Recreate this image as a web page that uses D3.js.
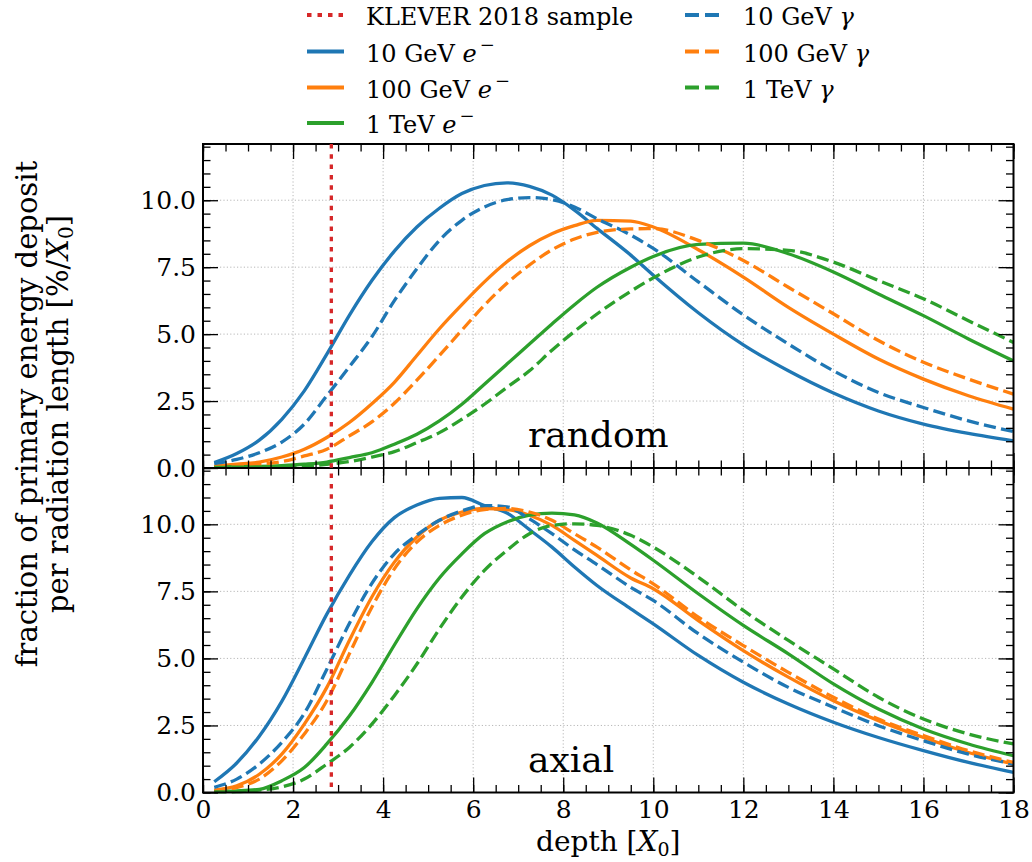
<!DOCTYPE html>
<html><head><meta charset="utf-8">
<script src="https://cdn.jsdelivr.net/npm/d3@7"></script>
<style>
body{margin:0;background:#fff;}
text{font-family:"DejaVu Serif",serif;fill:#000;}
</style></head><body>
<svg id="chart" width="1032" height="862"></svg>
<script>
// ---- data ----
const depth = [0.25,0.75,1.25,1.75,2.25,2.75,3.25,3.75,4.25,4.75,5.25,5.75,6.25,6.75,7.25,7.75,8.25,8.75,9.5,10,11,12,13,14,15,16,17,18];

const random_e10  = [0.2,0.54,1.04,1.82,2.88,4.25,5.7,7.0,8.1,9.0,9.7,10.25,10.55,10.65,10.52,10.19,9.63,8.95,7.95,7.2,5.8,4.6,3.63,2.80,2.13,1.64,1.29,1.01];
const random_e100 = [0.07,0.14,0.22,0.41,0.7,1.14,1.7,2.4,3.2,4.2,5.2,6.1,6.95,7.7,8.3,8.75,9.05,9.25,9.22,9.0,8.15,7.13,6.0,5.0,4.07,3.32,2.7,2.2];
const random_e1T  = [0.04,0.05,0.06,0.09,0.14,0.22,0.39,0.57,0.89,1.26,1.76,2.38,3.13,3.88,4.63,5.38,6.1,6.75,7.5,7.9,8.35,8.4,8.0,7.32,6.5,5.69,4.82,4.0];
const random_g10  = [0.16,0.32,0.57,0.97,1.64,2.7,3.78,4.9,6.25,7.44,8.5,9.25,9.75,10.02,10.1,10.02,9.75,9.31,8.7,8.2,6.95,5.72,4.63,3.63,2.82,2.26,1.76,1.36];
const random_g100 = [0.05,0.09,0.14,0.24,0.45,0.7,1.2,1.72,2.42,3.28,4.2,5.15,6.08,6.9,7.58,8.15,8.55,8.8,8.93,8.94,8.5,7.75,6.75,5.76,4.76,3.95,3.32,2.76];
const random_g1T  = [0.02,0.03,0.04,0.05,0.07,0.14,0.24,0.41,0.61,0.95,1.32,1.82,2.38,3.01,3.63,4.4,5.1,5.75,6.6,7.1,7.88,8.19,8.13,7.69,7.0,6.32,5.5,4.69];

const axial_e10  = [0.4,1.1,2.1,3.4,5.0,6.65,8.1,9.35,10.25,10.72,10.97,11.0,10.7,10.42,9.8,9.15,8.41,7.72,6.85,6.29,5.11,4.11,3.3,2.62,2.05,1.56,1.12,0.75];
const axial_e100 = [0.09,0.25,0.68,1.43,2.55,3.92,5.67,7.29,8.59,9.53,10.15,10.46,10.59,10.55,10.34,9.96,9.4,8.84,8.0,7.6,6.41,5.29,4.3,3.42,2.68,2.05,1.49,1.06];
const axial_e1T  = [0.04,0.06,0.12,0.44,0.93,1.81,2.85,4.1,5.5,6.85,8.0,8.9,9.65,10.09,10.34,10.42,10.35,10.05,9.25,8.66,7.41,6.23,5.17,4.05,3.11,2.37,1.81,1.37];
const axial_g10  = [0.19,0.5,1.06,1.87,2.95,4.6,6.3,7.8,8.9,9.6,10.15,10.5,10.7,10.65,10.2,9.65,9.05,8.5,7.65,7.16,5.92,4.86,3.92,3.18,2.49,1.93,1.43,1.06];
const axial_g100 = [0.06,0.19,0.5,1.18,2.18,3.42,5.17,6.91,8.34,9.34,9.96,10.34,10.55,10.59,10.46,10.15,9.65,9.15,8.3,7.78,6.54,5.48,4.48,3.55,2.74,2.12,1.56,1.12];
const axial_g1T  = [0.02,0.03,0.09,0.21,0.5,1.06,1.68,2.55,3.61,4.79,6.1,7.29,8.28,9.03,9.65,9.96,10.02,9.96,9.59,9.15,8.03,6.79,5.67,4.61,3.55,2.74,2.18,1.81];

const kleverDepth = 2.85;
const xTicks = [0,2,4,6,8,10,12,14,16,18];
const yTicks = [0,2.5,5,7.5,10];
const panelNames = ["random","axial"];
const seriesLabels = ["10 GeV","100 GeV","1 TeV"];

// ---- layout ----
const svg = d3.select("#chart");
const L = 203, R = 1013.5, T = 144, M = 468, B = 792.5;
const FONT = "DejaVu Serif";
const colors = ["#1f77b4","#ff7f0e","#2ca02c"];
const red = "#d62728";
const LW = 3.3, DASH = "12.2,5.3";

const x = d3.scaleLinear().domain([0,18]).range([L,R]);
const minorX = d3.range(0,18.001,0.5);
const minorY = d3.range(0,12.001,0.5);

const panels = [
  {name: panelNames[0], y0: T, y1: M, e:[random_e10,random_e100,random_e1T], g:[random_g10,random_g100,random_g1T]},
  {name: panelNames[1], y0: M, y1: B, e:[axial_e10,axial_e100,axial_e1T], g:[axial_g10,axial_g100,axial_g1T]}
];

panels.forEach((p,pi) => {
  const y = d3.scaleLinear().domain([0,12.1]).range([p.y1,p.y0]);
  const g = svg.append("g");
  // grid
  const grid = g.append("g").attr("stroke","#b0b0b0").attr("stroke-width",0.9).attr("stroke-dasharray","1.2,2.2");
  xTicks.filter(t=>t>0 && t<18).forEach(t=>grid.append("line").attr("x1",x(t)).attr("x2",x(t)).attr("y1",p.y0).attr("y2",p.y1));
  yTicks.filter(t=>t>0).forEach(t=>grid.append("line").attr("x1",L).attr("x2",R).attr("y1",y(t)).attr("y2",y(t)));

  const line = d3.line().x((d,i)=>x(depth[i])).y(d=>y(d)).curve(d3.curveMonotoneX);
  // lines
  p.e.forEach((s,i)=>g.append("path").attr("d",line(s)).attr("fill","none").attr("stroke",colors[i]).attr("stroke-width",LW).attr("stroke-linejoin","round"));
  p.g.forEach((s,i)=>g.append("path").attr("d",line(s)).attr("fill","none").attr("stroke",colors[i]).attr("stroke-width",LW).attr("stroke-dasharray",DASH));

  // axes
  const styleAxis = sel => { sel.select(".domain").remove(); sel.selectAll("line").attr("stroke","#000").attr("stroke-width",1.3); sel.selectAll("text").attr("font-family",FONT).attr("font-size",25).attr("fill","#000"); };
  g.append("g").attr("transform",`translate(${L},0)`).call(d3.axisLeft(y).tickValues(yTicks).tickSize(-15).tickPadding(7).tickFormat(d3.format(".1f"))).call(styleAxis);
  g.append("g").attr("transform",`translate(${L},0)`).call(d3.axisLeft(y).tickValues(minorY).tickSize(-7.5).tickFormat("")).call(styleAxis);
  g.append("g").attr("transform",`translate(${R},0)`).call(d3.axisRight(y).tickValues(yTicks).tickSize(-15).tickFormat("")).call(styleAxis);
  g.append("g").attr("transform",`translate(${R},0)`).call(d3.axisRight(y).tickValues(minorY).tickSize(-7.5).tickFormat("")).call(styleAxis);
  g.append("g").attr("transform",`translate(0,${p.y0})`).call(d3.axisTop(x).tickValues(xTicks).tickSize(-15).tickFormat("")).call(styleAxis);
  g.append("g").attr("transform",`translate(0,${p.y0})`).call(d3.axisTop(x).tickValues(minorX).tickSize(-7.5).tickFormat("")).call(styleAxis);
  g.append("g").attr("transform",`translate(0,${p.y1})`).call(d3.axisBottom(x).tickValues(xTicks).tickSize(-15).tickPadding(8).tickFormat(pi===1? d3.format("d") : "")).call(styleAxis);
  g.append("g").attr("transform",`translate(0,${p.y1})`).call(d3.axisBottom(x).tickValues(minorX).tickSize(-7.5).tickFormat("")).call(styleAxis);

  // frame
  g.append("rect").attr("x",L).attr("y",p.y0).attr("width",R-L).attr("height",p.y1-p.y0).attr("fill","none").attr("stroke","#000").attr("stroke-width",2);

  // panel label
  g.append("text").attr("x",528).attr("y", p.y1-21).attr("font-size",36).text(p.name);
});

// KLEVER line spanning both panels
svg.append("line").attr("x1",x(kleverDepth)).attr("x2",x(kleverDepth)).attr("y1",T).attr("y2",B)
  .attr("stroke",red).attr("stroke-width",3.3).attr("stroke-dasharray","4.5,5.8");

// axis labels
const xl = svg.append("text").attr("x",(L+R)/2).attr("y",851).attr("text-anchor","middle").attr("font-size",28);
xl.append("tspan").text("depth [");
xl.append("tspan").attr("font-style","italic").text("X");
xl.append("tspan").attr("font-size",19).attr("dy",5).text("0");
xl.append("tspan").attr("dy",-5).text("]");

const yl = svg.append("g").attr("transform","translate(0,414) rotate(-90)");
yl.append("text").attr("x",0).attr("y",37).attr("text-anchor","middle").attr("font-size",29).text("fraction of primary energy deposit");
const yl2 = yl.append("text").attr("x",0).attr("y",68).attr("text-anchor","middle").attr("font-size",29);
yl2.append("tspan").text("per radiation length [%/");
yl2.append("tspan").attr("font-style","italic").text("X");
yl2.append("tspan").attr("font-size",20).attr("dy",5).text("0");
yl2.append("tspan").attr("dy",-5).text("]");

// legend
const leg = svg.append("g");
const rowY = [15,51.5,87.5,123];
function handle(xx,yy,color,dash){
  leg.append("line").attr("x1",xx).attr("x2",xx+37).attr("y1",yy).attr("y2",yy).attr("stroke",color).attr("stroke-width",3.8).attr("stroke-dasharray",dash||null);
}
handle(307,rowY[0],red,"4.5,6");
leg.append("text").attr("x",366).attr("y",rowY[0]+10).attr("font-size",24).text("KLEVER 2018 sample");
seriesLabels.forEach((lab,i)=>{
  handle(307,rowY[i+1],colors[i],null);
  const t = leg.append("text").attr("x",366).attr("y",rowY[i+1]+10).attr("font-size",24);
  t.append("tspan").text(lab+" ");
  t.append("tspan").attr("font-style","italic").text("e");
  t.append("tspan").attr("font-size",18).attr("dx",3).attr("dy",-11).text("\u2212");
  handle(685,rowY[i],colors[i],"14,6");
  const t2 = leg.append("text").attr("x",743).attr("y",rowY[i]+10).attr("font-size",24);
  t2.append("tspan").text(lab+" ");
  t2.append("tspan").attr("font-style","italic").text("\u03b3");
});
</script></body></html>
